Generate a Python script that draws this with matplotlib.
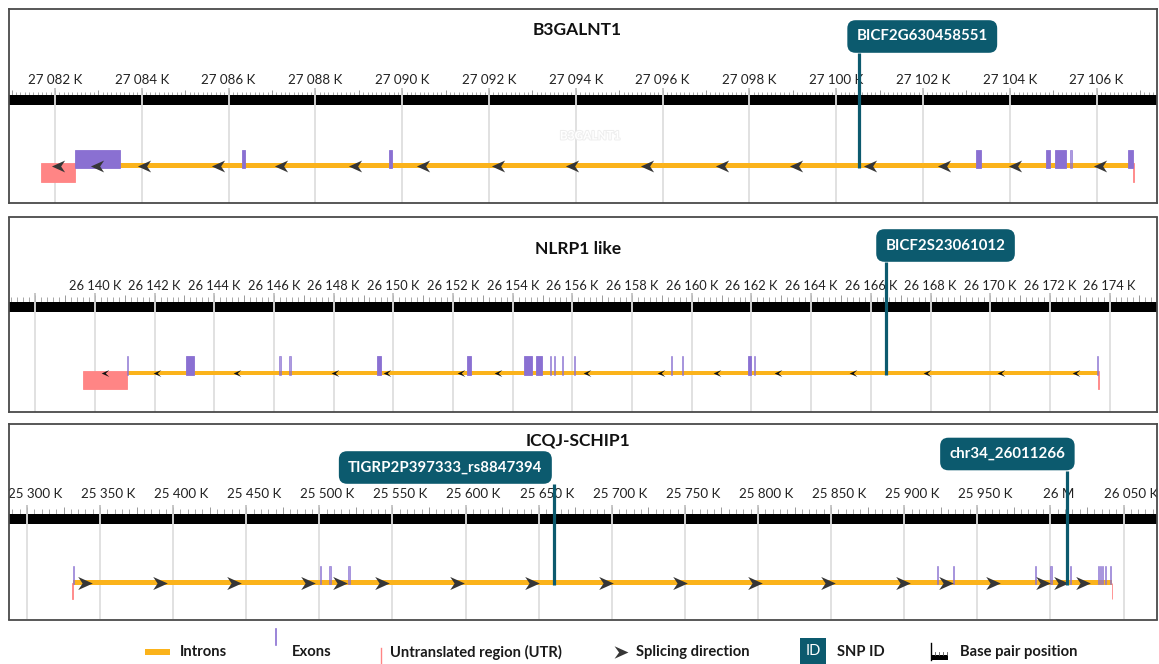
import matplotlib
matplotlib.use("Agg")
import matplotlib.pyplot as plt
import numpy as np
from matplotlib.path import Path
from matplotlib.patches import Rectangle
from matplotlib.transforms import offset_copy
import matplotlib.patheffects as pe

plt.rcParams['font.family'] = ['Lato', 'DejaVu Sans']

# ---------------- DATA (positions in kb) ----------------
# Panel 1 : B3GALNT1
p1_title = "B3GALNT1"
p1_ticks = [27082, 27084, 27086, 27088, 27090, 27092, 27094, 27096, 27098, 27100, 27102, 27104, 27106]
p1_ticklabels = ["27 082 K", "27 084 K", "27 086 K", "27 088 K", "27 090 K", "27 092 K", "27 094 K",
                 "27 096 K", "27 098 K", "27 100 K", "27 102 K", "27 104 K", "27 106 K"]
p1_gene = (27082.46, 27106.84)
p1_exons = [(27082.46, 27083.50), (27086.31, 27086.38), (27089.70, 27089.76), (27103.22, 27103.34),
            (27104.83, 27104.93), (27105.04, 27105.29), (27105.39, 27105.43), (27106.72, 27106.84)]
p1_utrs = [(27081.68, 27082.46), (27106.84, 27106.87)]
p1_arrows = [27082.07, 27082.97, 27084.05, 27085.76, 27087.21, 27088.91, 27090.48, 27092.21,
             27093.91, 27095.64, 27097.37, 27099.07, 27100.78, 27102.48, 27104.12, 27106.08]
p1_strand = -1
p1_snps = [27100.53]
p1_snp_ids = ["BICF2G630458551"]

# Panel 2 : NLRP1 like
p2_title = "NLRP1 like"
p2_ticks = [26138, 26140, 26142, 26144, 26146, 26148, 26150, 26152, 26154, 26156, 26158, 26160,
            26162, 26164, 26166, 26168, 26170, 26172, 26174]
p2_ticklabels = ["", "26 140 K", "26 142 K", "26 144 K", "26 146 K", "26 148 K", "26 150 K", "26 152 K",
                 "26 154 K", "26 156 K", "26 158 K", "26 160 K", "26 162 K", "26 164 K", "26 166 K",
                 "26 168 K", "26 170 K", "26 172 K", "26 174 K"]
p2_gene = (26141.07, 26173.61)
p2_exons = [(26141.07, 26141.10), (26143.05, 26143.32), (26146.17, 26146.23), (26146.50, 26146.57),
            (26149.45, 26149.58), (26152.47, 26152.60), (26154.38, 26154.64), (26154.78, 26154.98),
            (26155.25, 26155.28), (26155.38, 26155.41), (26155.65, 26155.68), (26156.05, 26156.08),
            (26159.30, 26159.33), (26159.67, 26159.71), (26161.88, 26161.98), (26162.08, 26162.11),
            (26173.58, 26173.61)]
p2_utrs = [(26139.60, 26141.07), (26173.61, 26173.64)]
p2_arrows = [26140.34, 26142.08, 26144.76, 26148.04, 26149.79, 26152.27, 26153.51, 26156.49,
             26158.97, 26160.84, 26162.89, 26165.40, 26167.88, 26170.36, 26172.88]
p2_strand = -1
p2_snps = [26166.51]
p2_snp_ids = ["BICF2S23061012"]

# Panel 3 : ICQJ-SCHIP1
p3_title = "ICQJ-SCHIP1"
p3_ticks = [25300, 25350, 25400, 25450, 25500, 25550, 25600, 25650, 25700, 25750, 25800, 25850,
            25900, 25950, 26000, 26050]
p3_ticklabels = ["25 300 K", "25 350 K", "25 400 K", "25 450 K", "25 500 K", "25 550 K", "25 600 K",
                 "25 650 K", "25 700 K", "25 750 K", "25 800 K", "25 850 K", "25 900 K", "25 950 K",
                 "26 M", "26 050 K"]
p3_gene = (25331.5, 26041.9)
p3_exons = [(25331.2, 25331.9), (25500.1, 25500.8), (25506.9, 25507.6), (25519.9, 25520.6),
            (25922.3, 25923.0), (25933.3, 25934.0), (25989.2, 25989.9), (26000.0, 26001.0),
            (26013.6, 26014.3), (26032.3, 26033.0), (26033.6, 26034.3), (26035.0, 26035.7),
            (26037.0, 26037.7), (26040.9, 26041.6)]
p3_utrs = [(25331.0, 25331.5), (26041.9, 26042.4)]
p3_arrows = [25339.7, 25391.0, 25441.6, 25492.2, 25514.1, 25542.8, 25594.1, 25645.4, 25696.0,
             25746.6, 25797.9, 25847.9, 25899.2, 25928.6, 25960.7, 25994.9, 26007.2, 26022.3]
p3_strand = 1
p3_snps = [25660.7, 26011.27]
p3_snp_ids = ["TIGRP2P397333_rs8847394", "chr34_26011266"]

legend_labels = ["Introns", "Exons", "Untranslated region (UTR)", "Splicing direction", "SNP ID",
                 "Base pair position"]

# ---------------- STYLE ----------------
C_INTRON = '#fbb31b'
C_EXON = '#8a70d2'
C_UTR = '#ff8585'
C_SNP = '#0c5a6e'
C_ARROW = '#363636'

W, H = 1159, 664
fig = plt.figure(figsize=(W / 100, H / 100), dpi=100)

def arrow_marker(direction, notch=0.35):
    d = direction
    verts = [(1.0 * d, 0), (-1.0 * d, 0.9), (-notch * d, 0), (-1.0 * d, -0.9), (1.0 * d, 0)]
    codes = [Path.MOVETO, Path.LINETO, Path.LINETO, Path.LINETO, Path.CLOSEPOLY]
    return Path(verts, codes)

panels = [
    dict(title=p1_title, ticks=p1_ticks, labels=p1_ticklabels, gene=p1_gene, exons=p1_exons,
         utrs=p1_utrs, arrows=p1_arrows, strand=p1_strand, snps=p1_snps, ids=p1_snp_ids,
         top=9, bottom=202.5, xlim=(27080.94, 27107.39), title_xy=(577, 30), label_y=80.5, lab_dx=0,
         lab_fs=9.6,
         bar=(95, 105), tick_top=87.5, med_top=89.5, minor_top=91.5, minor=0.1, medium=1.0,
         intron=(163.3, 167.8), exon=(149.5, 168), utr=(163.3, 182), arrow_ms=9.5, arrow_col=C_ARROW,
         notch=0.4, box=[(63, 36.5)], ghost=(27094.33, 136)),
    dict(title=p2_title, ticks=p2_ticks, labels=p2_ticklabels, gene=p2_gene, exons=p2_exons,
         utrs=p2_utrs, arrows=p2_arrows, strand=p2_strand, snps=p2_snps, ids=p2_snp_ids,
         top=217.5, bottom=411.5, xlim=(26137.12, 26175.59), title_xy=(578, 249), label_y=286, lab_dx=0,
         lab_fs=9.3,
         bar=(301.7, 312.3), tick_top=293.3, med_top=295, minor_top=296.7, minor=0.2, medium=1.0,
         intron=(370.7, 375), exon=(356, 375), utr=(370.7, 389.3), arrow_ms=5.5, arrow_col='#111111',
         notch=0.05, box=[(59.5, 245.5)], ghost=None),
    dict(title=p3_title, ticks=p3_ticks, labels=p3_ticklabels, gene=p3_gene, exons=p3_exons,
         utrs=p3_utrs, arrows=p3_arrows, strand=p3_strand, snps=p3_snps, ids=p3_snp_ids,
         top=424, bottom=619.5, xlim=(25287.7, 26072.9), title_xy=(578, 441), label_y=494, lab_dx=8,
         lab_fs=9.6,
         bar=(514, 524.3), tick_top=505, med_top=507, minor_top=509, minor=5.0, medium=25.0,
         intron=(580.5, 585), exon=(566, 584), utr=(583, 599), arrow_ms=10.5, arrow_col=C_ARROW,
         notch=0.4, box=[(-109, 467.5), (-59.5, 454)], ghost=None),
]
box_bottoms = [[53], [262], [484, 471]]

for pi, P in enumerate(panels):
    top, bottom = P['top'], P['bottom']
    ax = fig.add_axes([9 / W, 1 - bottom / H, 1148 / W, (bottom - top) / H])
    ax.set_xlim(*P['xlim'])
    ax.set_ylim(bottom, top)
    ax.set_xticks([]); ax.set_yticks([])
    for s in ax.spines.values():
        s.set_color('#4a4a4a'); s.set_linewidth(1.3); s.set_zorder(20)
    x0, x1 = P['xlim']
    # ruler bar
    ax.axhspan(P['bar'][0], P['bar'][1], color='black', zorder=2, lw=0)
    # minor / medium ticks
    minor = np.arange(np.ceil(x0 / P['minor']) * P['minor'], x1, P['minor'])
    ax.vlines(minor, P['minor_top'], P['bar'][0], color='#9a9a9a', lw=0.6, zorder=1)
    med = np.arange(np.ceil(x0 / P['medium']) * P['medium'], x1, P['medium'])
    ax.vlines(med, P['med_top'], P['bar'][0], color='#9a9a9a', lw=0.7, zorder=1)
    # major ticks + grid
    ax.vlines(P['ticks'], P['tick_top'], P['bar'][0], color='#bdbdbd', lw=1.2, zorder=1)
    ax.vlines(P['ticks'], P['bar'][0], bottom, color='#dedede', lw=1.3, zorder=3)
    # tick labels
    ltr = offset_copy(ax.transData, fig=fig, x=P['lab_dx'], y=0, units='dots')
    for t, lab in zip(P['ticks'], P['labels']):
        ax.text(t, P['label_y'], lab, ha='center', va='center', fontsize=P['lab_fs'], color='#222222',
                transform=ltr, clip_on=True, zorder=5)
    # ghost label inside track
    if P['ghost'] is not None:
        ax.text(P['ghost'][0], P['ghost'][1], P['title'], ha='center', va='center', fontsize=8.5,
                fontweight='bold', color='white', zorder=5,
                path_effects=[pe.withStroke(linewidth=1.4, foreground='#eeeeee')])
    # introns
    g0, g1 = P['gene']
    ax.add_patch(Rectangle((g0, P['intron'][0]), g1 - g0, P['intron'][1] - P['intron'][0],
                           color=C_INTRON, lw=0, zorder=4))
    # UTRs
    for a, b in P['utrs']:
        ax.add_patch(Rectangle((a, P['utr'][0]), b - a, P['utr'][1] - P['utr'][0],
                               facecolor=C_UTR, edgecolor=C_UTR, lw=0.6, zorder=4))
    # exons
    kb_per_px = (x1 - x0) / 1148
    for a, b in P['exons']:
        thin = (b - a) / kb_per_px < 2.5
        ax.add_patch(Rectangle((a, P['exon'][0]), b - a, P['exon'][1] - P['exon'][0],
                               facecolor=C_EXON, edgecolor=C_EXON, lw=0.6,
                               alpha=0.7 if thin else 1.0, zorder=5))
    # splicing arrows
    yc = 0.5 * (P['intron'][0] + P['intron'][1])
    ax.plot(P['arrows'], [yc] * len(P['arrows']), ls='none',
            marker=arrow_marker(P['strand'], P['notch']), ms=P['arrow_ms'],
            color=P['arrow_col'], mec='none', zorder=6)
    # SNPs
    for k, (pos, sid) in enumerate(zip(P['snps'], P['ids'])):
        dx, by = P['box'][k]
        ax.vlines(pos, box_bottoms[pi][k], P['intron'][1], color=C_SNP, lw=2.3, zorder=7)
        btr = offset_copy(ax.transData, fig=fig, x=dx, y=0, units='dots')
        ax.text(pos, by, sid, ha='center', va='center', fontsize=10.8, fontweight='bold',
                color='white', transform=btr, zorder=9, clip_on=False,
                bbox=dict(boxstyle='round,pad=0.62,rounding_size=0.55', fc=C_SNP, ec='none'))

# ---------------- overlay: titles + legend (pixel coordinates) ----------------
ov = fig.add_axes([0, 0, 1, 1], zorder=30)
ov.set_xlim(0, W); ov.set_ylim(H, 0); ov.axis('off'); ov.patch.set_alpha(0)
for P in panels:
    ov.text(P['title_xy'][0], P['title_xy'][1], P['title'], ha='center', va='center',
            fontsize=12.5, fontweight='bold', color='#111111')

LY = 652
lfs = 10.6
lcol = '#1a1a1a'
# Introns
ov.add_patch(Rectangle((145, 649), 25, 6, color=C_INTRON, lw=0))
ov.text(180, LY, legend_labels[0], ha='left', va='center', fontsize=lfs, fontweight='bold', color=lcol)
# Exons
ov.plot([276, 276], [629, 645], color=C_EXON, lw=1.2)
ov.text(292, LY, legend_labels[1], ha='left', va='center', fontsize=lfs, fontweight='bold', color=lcol)
# UTR
ov.plot([381, 381], [648, 664], color=C_UTR, lw=1.0)
ov.text(390, LY, legend_labels[2], ha='left', va='center', fontsize=lfs, fontweight='bold', color=lcol)
# Splicing
ov.plot([621], [LY], ls='none', marker=arrow_marker(1, 0.35), ms=10, color=C_ARROW, mec='none')
ov.text(636, LY, legend_labels[3], ha='left', va='center', fontsize=lfs, fontweight='bold', color=lcol)
# SNP ID
ov.add_patch(Rectangle((800, 638), 26, 26, color=C_SNP, lw=0))
ov.text(813, 651, "ID", ha='center', va='center', fontsize=10.5, color='white')
ov.text(837, LY, legend_labels[4], ha='left', va='center', fontsize=lfs, fontweight='bold', color=lcol)
# Base pair position icon
ov.add_patch(Rectangle((931, 655), 17, 5, color='black', lw=0))
ov.plot([931, 931], [643, 660], color='black', lw=1.0)
for xt in [935, 939, 943, 947]:
    ov.plot([xt, xt], [652, 655], color='#555555', lw=0.6)
ov.text(960, LY, legend_labels[5], ha='left', va='center', fontsize=lfs, fontweight='bold', color=lcol)

fig.savefig('out.png', dpi=100)
